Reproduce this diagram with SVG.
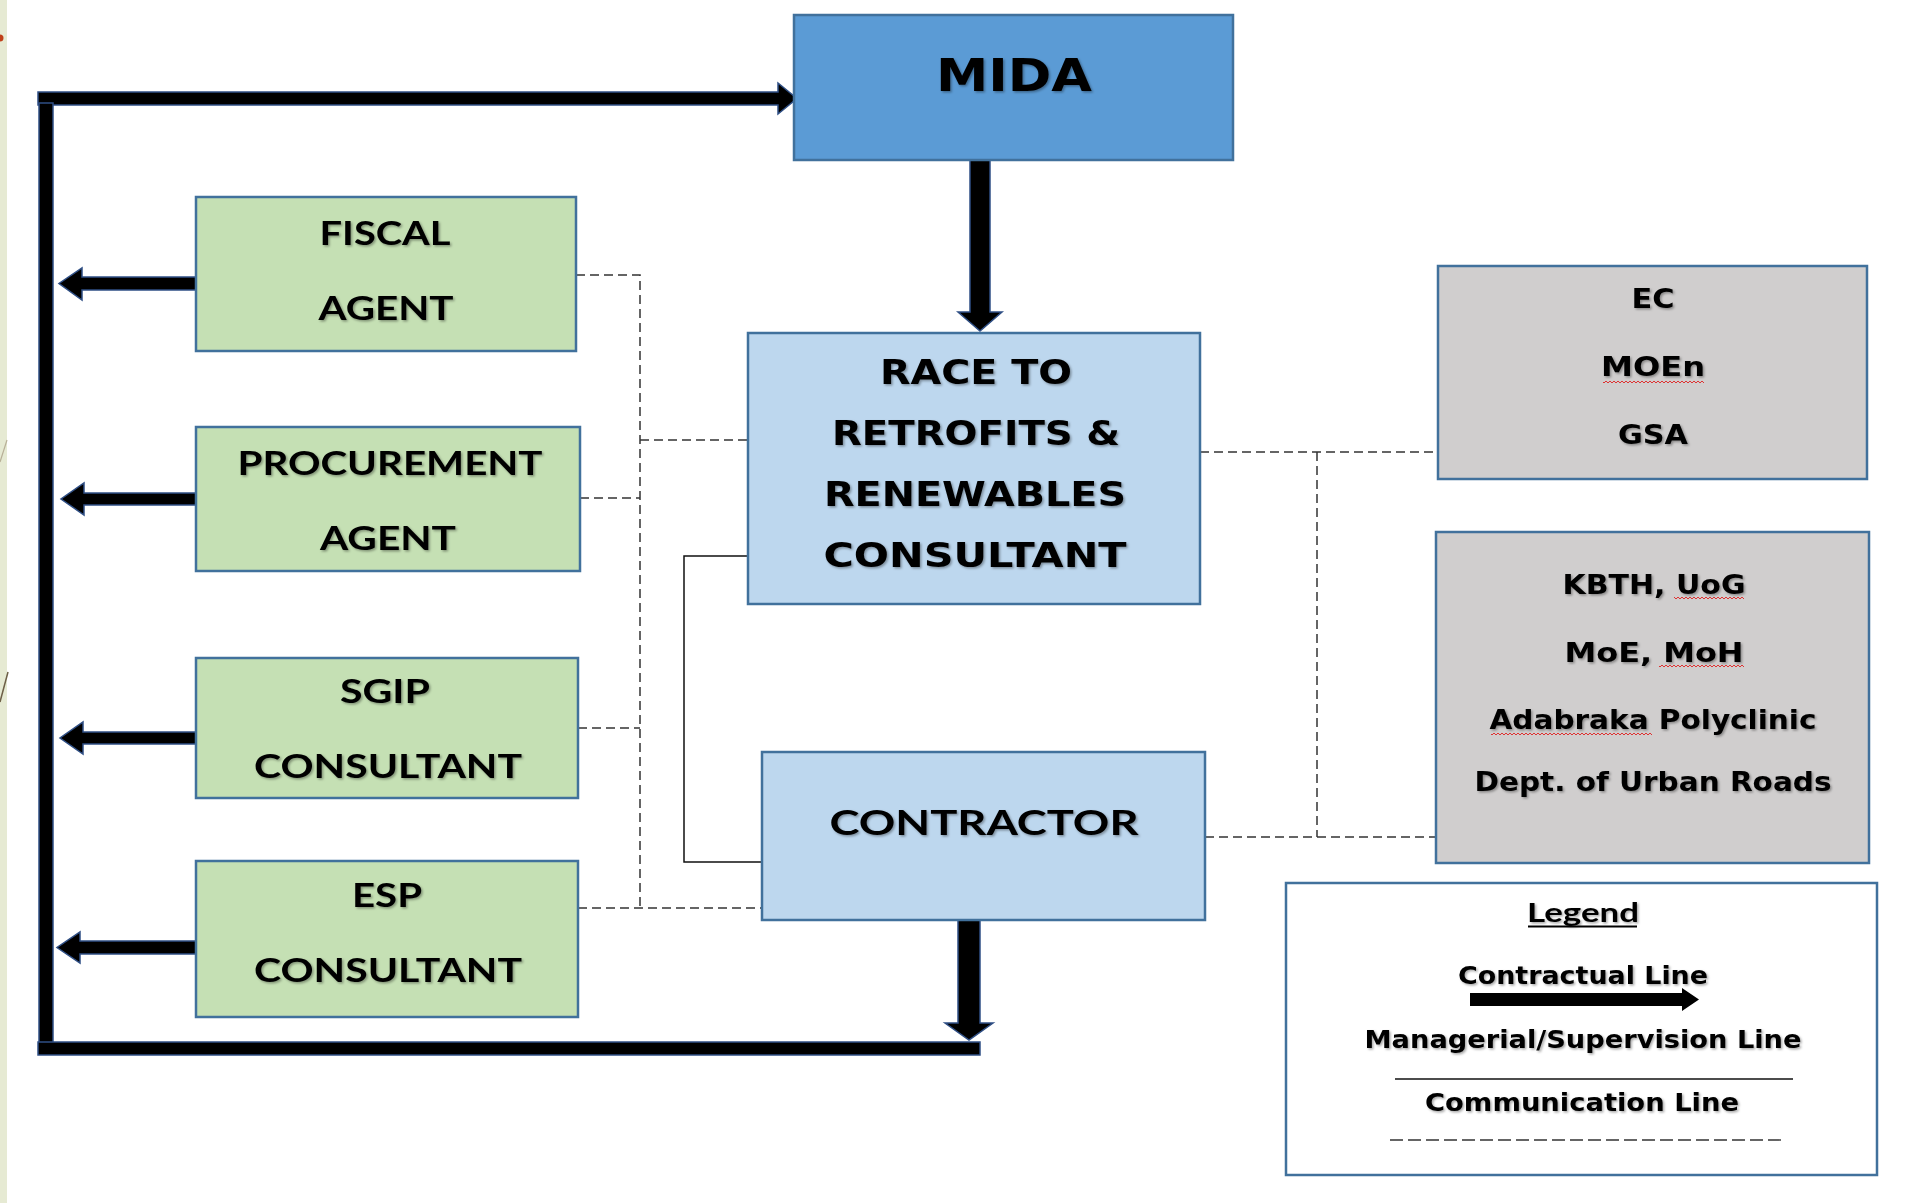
<svg xmlns="http://www.w3.org/2000/svg" width="1921" height="1203" viewBox="0 0 1921 1203">
<defs>
<style>
.box{stroke:#41719c;stroke-width:2.5}
.green{fill:#c5e0b4}
.lblue{fill:#bdd7ee}
.mblue{fill:#5b9bd5}
.gray{fill:#d0cece}
.thick{fill:#000;stroke:#2f4f85;stroke-width:1.5;stroke-linejoin:miter}
.dash{fill:none;stroke:#333;stroke-width:1.5;stroke-dasharray:9 5}
.solid{fill:none;stroke:#111;stroke-width:1.5}
.cal{font-family:Lato,"Open Sans","Liberation Sans",sans-serif;font-weight:700;fill:#000;text-anchor:middle;filter:url(#sh)}
.tah{font-family:"DejaVu Sans","Liberation Sans",sans-serif;font-weight:700;fill:#000;text-anchor:middle;filter:url(#sh)}
</style>
<filter id="sh" x="-10%" y="-30%" width="120%" height="160%">
<feDropShadow dx="1.5" dy="1.5" stdDeviation="1" flood-color="#000" flood-opacity="0.35"/>
</filter>
<pattern id="squig" x="0" y="0" width="4" height="4" patternUnits="userSpaceOnUse">
<path d="M0,3 L2,1 L4,3" fill="none" stroke="#e02020" stroke-width="0.9"/>
</pattern>
</defs>
<rect x="0" y="0" width="1921" height="1203" fill="#fff"/>
<g id="background">
<rect x="0" y="0" width="7" height="1203" fill="#e6ead3"/>
<circle cx="0" cy="38" r="3.5" fill="#c0401a"/>
<line x1="0" y1="462" x2="7" y2="440" stroke="#b8b098" stroke-width="1.2"/>
<line x1="0" y1="702" x2="8" y2="672" stroke="#6e6048" stroke-width="1.5"/>
</g>
<g id="connectors">
<path class="thick" d="M38,92 L778,92 L778,83 L797,98.5 L778,114 L778,105 L38,105 Z"/>
<rect class="thick" x="39" y="103" width="14" height="940"/>
<rect class="thick" x="38" y="1042" width="942" height="13"/>
<path class="thick" d="M970,160 L990,160 L990,312 L1002,312 L980,331 L958,312 L970,312 Z"/>
<path class="thick" d="M958,920 L980,920 L980,1023 L993,1023 L969,1040 L945,1023 L958,1023 Z"/>
<path class="thick" d="M196,277 L82,277 L82,268 L59,283.5 L82,300 L82,290 L196,290 Z"/>
<path class="thick" d="M196,493 L84,493 L84,483 L61,499 L84,515 L84,505 L196,505 Z"/>
<path class="thick" d="M196,732 L83,732 L83,722 L60,738 L83,754 L83,744 L196,744 Z"/>
<path class="thick" d="M196,941 L80,941 L80,932 L57,947.5 L80,963 L80,954 L196,954 Z"/>
<path class="dash" d="M576,275 L640,275 L640,908"/>
<path class="dash" d="M580,498 L640,498"/>
<path class="dash" d="M578,728 L640,728"/>
<path class="dash" d="M578,908 L762,908"/>
<path class="dash" d="M640,440 L748,440"/>
<path class="dash" d="M1200,452 L1438,452"/>
<path class="dash" d="M1317,452 L1317,837"/>
<path class="dash" d="M1205,837 L1436,837"/>
<path class="solid" d="M748,556 L684,556 L684,862 L762,862"/>
</g>
<g id="mida">
<rect class="box mblue" x="794" y="15" width="439" height="145"/>
<text class="tah" x="1014" y="91" font-size="44" textLength="156" lengthAdjust="spacingAndGlyphs">MIDA</text>
</g>
<g id="race">
<rect class="box lblue" x="748" y="333" width="452" height="271"/>
<text class="tah" x="976" y="384" font-size="33" textLength="192" lengthAdjust="spacingAndGlyphs">RACE TO</text>
<text class="tah" x="976" y="445" font-size="33" textLength="288" lengthAdjust="spacingAndGlyphs">RETROFITS &amp;</text>
<text class="tah" x="975" y="506" font-size="33" textLength="302" lengthAdjust="spacingAndGlyphs">RENEWABLES</text>
<text class="tah" x="975" y="567" font-size="33" textLength="303" lengthAdjust="spacingAndGlyphs">CONSULTANT</text>
</g>
<g id="contractor">
<rect class="box lblue" x="762" y="752" width="443" height="168"/>
<text class="cal" x="984" y="835" font-size="35" textLength="309" lengthAdjust="spacingAndGlyphs">CONTRACTOR</text>
</g>
<g id="fiscal-agent">
<rect class="box green" x="196" y="197" width="380" height="154"/>
<text class="cal" x="385" y="245" font-size="32" textLength="131" lengthAdjust="spacingAndGlyphs">FISCAL</text>
<text class="cal" x="386" y="320" font-size="32" textLength="135" lengthAdjust="spacingAndGlyphs">AGENT</text>
</g>
<g id="procurement-agent">
<rect class="box green" x="196" y="427" width="384" height="144"/>
<text class="cal" x="390" y="475" font-size="32" textLength="305" lengthAdjust="spacingAndGlyphs">PROCUREMENT</text>
<text class="cal" x="388" y="550" font-size="32" textLength="136" lengthAdjust="spacingAndGlyphs">AGENT</text>
</g>
<g id="sgip-consultant">
<rect class="box green" x="196" y="658" width="382" height="140"/>
<text class="cal" x="385" y="703" font-size="32" textLength="90" lengthAdjust="spacingAndGlyphs">SGIP</text>
<text class="cal" x="388" y="778" font-size="32" textLength="268" lengthAdjust="spacingAndGlyphs">CONSULTANT</text>
</g>
<g id="esp-consultant">
<rect class="box green" x="196" y="861" width="382" height="156"/>
<text class="cal" x="387" y="907" font-size="32" textLength="70" lengthAdjust="spacingAndGlyphs">ESP</text>
<text class="cal" x="388" y="982" font-size="32" textLength="268" lengthAdjust="spacingAndGlyphs">CONSULTANT</text>
</g>
<g id="stakeholders-1">
<rect class="box gray" x="1438" y="266" width="429" height="213"/>
<text class="tah" x="1653" y="308" font-size="26" textLength="43" lengthAdjust="spacingAndGlyphs">EC</text>
<text class="tah" x="1653" y="376" font-size="26" textLength="104" lengthAdjust="spacingAndGlyphs">MOEn</text>
<text class="tah" x="1653" y="444" font-size="26" textLength="70" lengthAdjust="spacingAndGlyphs">GSA</text>
<rect x="1603" y="379" width="101" height="4" fill="url(#squig)"/>
</g>
<g id="stakeholders-2">
<rect class="box gray" x="1436" y="532" width="433" height="331"/>
<text class="tah" x="1654" y="594" font-size="27" textLength="183" lengthAdjust="spacingAndGlyphs">KBTH, UoG</text>
<text class="tah" x="1654" y="662" font-size="27" textLength="179" lengthAdjust="spacingAndGlyphs">MoE, MoH</text>
<text class="tah" x="1653" y="729" font-size="27" textLength="327" lengthAdjust="spacingAndGlyphs">Adabraka Polyclinic</text>
<text class="tah" x="1653" y="791" font-size="27" textLength="357" lengthAdjust="spacingAndGlyphs">Dept. of Urban Roads</text>
<rect x="1674" y="597" width="70" height="4" fill="url(#squig)"/>
<rect x="1659" y="665" width="85" height="4" fill="url(#squig)"/>
<rect x="1491" y="732" width="161" height="4" fill="url(#squig)"/>
</g>
<g id="legend">
<rect class="box" x="1286" y="883" width="591" height="292" fill="#fff"/>
<text class="cal" x="1583" y="922" font-size="26" textLength="112" lengthAdjust="spacingAndGlyphs">Legend</text>
<line x1="1528" y1="926.5" x2="1637" y2="926.5" stroke="#000" stroke-width="1.8"/>
<text class="tah" x="1583" y="984" font-size="24" textLength="250" lengthAdjust="spacingAndGlyphs">Contractual Line</text>
<path d="M1470,993 L1682,993 L1682,988 L1699,999.5 L1682,1011 L1682,1006 L1470,1006 Z" fill="#000"/>
<text class="tah" x="1583" y="1048" font-size="24" textLength="437" lengthAdjust="spacingAndGlyphs">Managerial/Supervision Line</text>
<line x1="1395" y1="1079" x2="1793" y2="1079" stroke="#111" stroke-width="1.5"/>
<text class="tah" x="1582" y="1111" font-size="24" textLength="314" lengthAdjust="spacingAndGlyphs">Communication Line</text>
<line x1="1390" y1="1140" x2="1781" y2="1140" stroke="#333" stroke-width="1.4" stroke-dasharray="13 5"/>
</g>
</svg>
